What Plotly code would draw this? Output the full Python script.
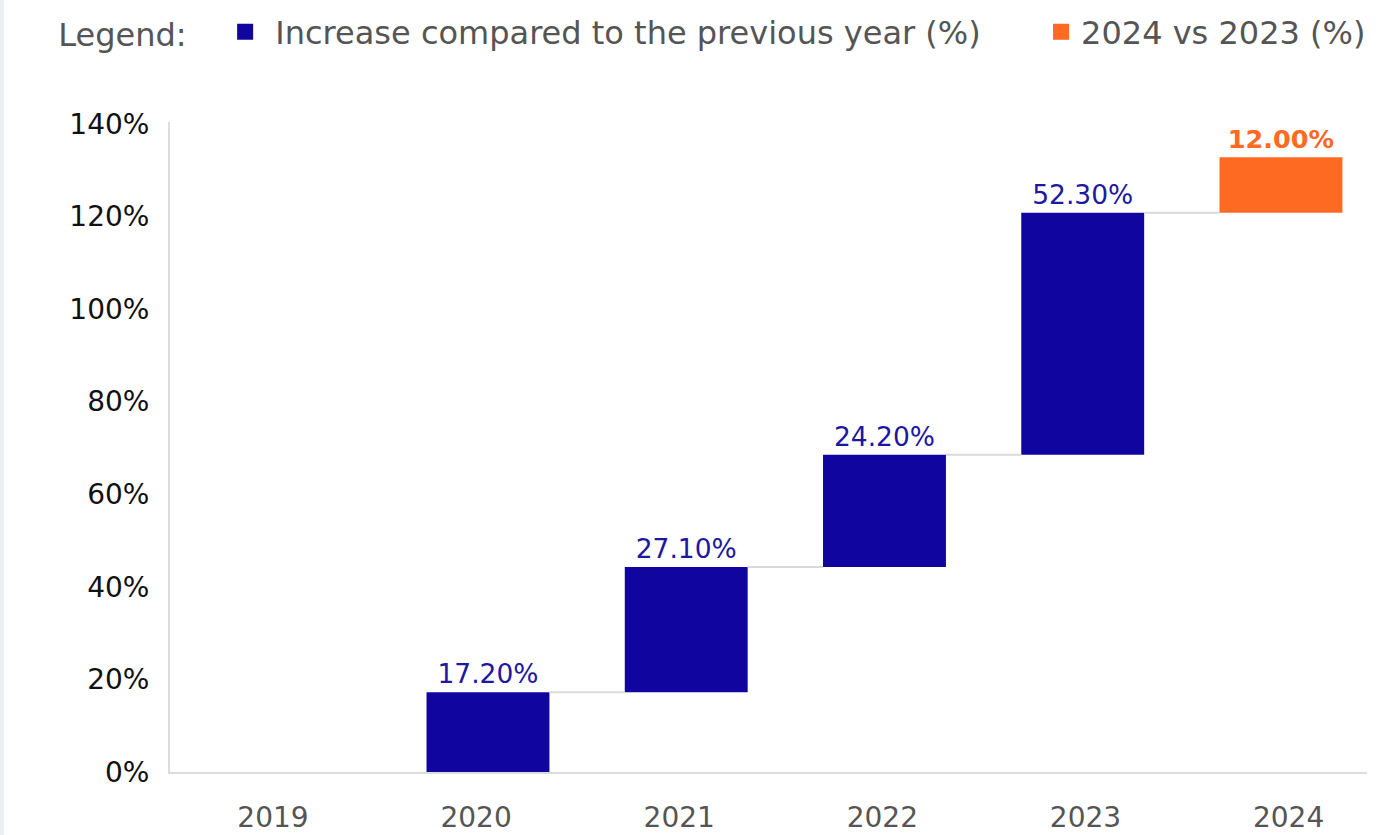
import plotly.graph_objects as go

years = ["2019", "2020", "2021", "2022", "2023", "2024"]
increase = [0.0, 17.2, 27.1, 24.2, 52.3, 12.0]
labels = ["", "17.20%", "27.10%", "24.20%", "52.30%", "12.00%"]
y_ticks = [0, 20, 40, 60, 80, 100, 120, 140]
series_names = ["Increase compared to the previous year (%)", "2024 vs 2023 (%)"]

BLUE = "#10069f"
ORANGE = "#ff6a22"
FONT = "DejaVu Sans"

pos = list(range(len(years)))
bases = []
acc = 0.0
for v in increase:
    bases.append(acc)
    acc += v
tops = [b + v for b, v in zip(bases, increase)]
W = 0.62

fig = go.Figure()

# connectors
cx, cy = [], []
for i in range(1, len(years) - 1):
    cx += [pos[i] + W / 2, pos[i + 1] - W / 2, None]
    cy += [tops[i], tops[i], None]
fig.add_trace(go.Scatter(x=cx, y=cy, mode="lines", line=dict(color="#d9d9d9", width=2),
                         showlegend=False, hoverinfo="skip"))

blue_idx = list(range(len(years) - 1))
fig.add_trace(go.Bar(
    x=[pos[i] for i in blue_idx], y=[increase[i] for i in blue_idx], base=[bases[i] for i in blue_idx],
    width=W, marker=dict(color=BLUE, line=dict(width=0)),
    text=[labels[i] for i in blue_idx], textposition="outside", cliponaxis=False,
    textfont=dict(family=FONT, size=26.5, color="#1d17a2"),
    showlegend=False, name=series_names[0]))
o = len(years) - 1
fig.add_trace(go.Bar(
    x=[pos[o]], y=[increase[o]], base=[bases[o]], width=W,
    marker=dict(color=ORANGE, line=dict(width=0)),
    text=[labels[o]], textposition="outside", cliponaxis=False,
    textfont=dict(family=FONT, size=25.5, color=ORANGE, weight="bold"),
    showlegend=False, name=series_names[1]))

# legend entries
fig.add_trace(go.Scatter(x=[None], y=[None], mode="markers", name=" " + series_names[0],
                         marker=dict(symbol="square", size=16, color=BLUE), legend="legend"))
fig.add_trace(go.Scatter(x=[None], y=[None], mode="markers", name=series_names[1],
                         marker=dict(symbol="square", size=16, color=ORANGE), legend="legend2"))

# invisible trace to carry year labels axis
fig.add_trace(go.Scatter(x=pos, y=[0] * len(pos), xaxis="x2", mode="markers",
                         marker=dict(opacity=0), showlegend=False, hoverinfo="skip"))

leg_font = dict(family=FONT, size=32, color="#555555")
fig.update_layout(
    width=1384, height=835,
    margin=dict(l=170, r=17, t=122, b=63, autoexpand=False),
    paper_bgcolor="white", plot_bgcolor="white",
    barmode="overlay",
    font=dict(family=FONT, color="#555555"),
    xaxis=dict(range=[-0.604, 5.434], showticklabels=False, ticks="", showgrid=False,
               zeroline=False, showline=True, linecolor="#dcdcdc", linewidth=2, automargin=False),
    xaxis2=dict(overlaying="x", anchor="y", side="bottom", range=[-0.507, 5.386],
                tickmode="array", tickvals=pos, ticktext=years, ticks="", showgrid=False,
                zeroline=False, showline=False, ticklabelstandoff=26, automargin=False,
                tickfont=dict(family=FONT, size=28, color="#555555")),
    yaxis=dict(range=[0, 140.4], tickmode="array", tickvals=y_ticks,
               ticktext=[f"{t}%" for t in y_ticks], ticks="", showgrid=False, zeroline=False,
               showline=True, linecolor="#dcdcdc", linewidth=2, ticklabelstandoff=13,
               automargin=False, tickfont=dict(family=FONT, size=28, color="#111111")),
    legend=dict(orientation="h", x=-0.095, xanchor="left", y=1.1386, yanchor="middle",
                title=dict(text="Legend:   ", font=leg_font),
                font=leg_font, bgcolor="rgba(0,0,0,0)", itemsizing="trace"),
    legend2=dict(orientation="h", x=0.7277, xanchor="left", y=1.1386, yanchor="middle",
                 font=leg_font, bgcolor="rgba(0,0,0,0)", itemsizing="trace"),
    shapes=[dict(type="rect", xref="paper", yref="paper", x0=-170 / 1197, x1=-166 / 1197,
                 y0=-63 / 650, y1=(650 + 122) / 650, fillcolor="#eeeff3", line=dict(width=0),
                 layer="below")],
    showlegend=True,
)

fig.write_html("out.html")
